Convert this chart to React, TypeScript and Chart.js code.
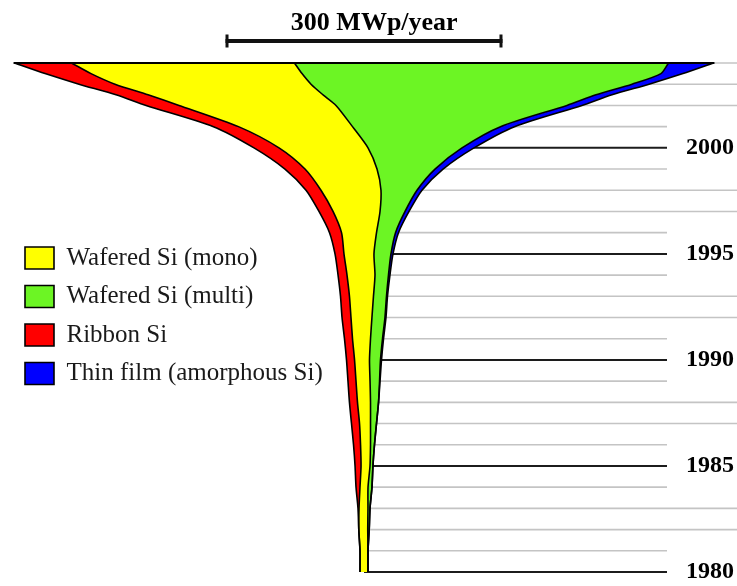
import React, { useEffect, useRef } from "react";
import { Chart, registerables } from "chart.js";

Chart.register(...registerables);

// ---- data ----
const YEARS = [
  1980, 1981, 1982, 1983, 1984, 1985, 1986, 1987, 1988, 1989, 1990, 1991, 1992,
  1993, 1994, 1995, 1996, 1997, 1998, 1999, 2000, 2001, 2002, 2002.5, 2003, 2003.5, 2004,
];
// MWp/year per technology
const RIBBON = [0, 0, 0, 1.1, 4.3, 6.5, 7.6, 8.7, 8.7, 8.7, 8.7, 8.7, 9.7, 9.7, 9.7, 9.7, 13.0, 15.2, 16.2, 21.7, 27.1, 27.1, 35.7, 34.7, 39.0, 49.8, 61.7];
const MONO = [8.7, 8.7, 9.7, 9.7, 8.7, 9.7, 10.8, 11.9, 14.1, 15.2, 16.2, 19.5, 22.7, 26.0, 30.3, 32.5, 37.9, 50.9, 65.0, 78.0, 96.4, 123.5, 170.0, 189.5, 212.3, 228.5, 241.5];
const MULTI = [0, 0, 1.6, 2.2, 4.3, 3.2, 4.3, 6.5, 8.7, 10.3, 11.9, 13.0, 14.1, 14.1, 14.6, 18.4, 20.6, 27.1, 39.0, 62.8, 101.8, 160.3, 250.2, 295.7, 347.7, 388.8, 405.1];
const THIN = [0, 0, 0, 0, 0, 0, 0, 0, 0, 0.5, 1.1, 1.1, 1.1, 1.1, 1.6, 2.2, 3.2, 4.3, 5.4, 8.7, 13.0, 15.2, 16.2, 17.3, 18.4, 23.8, 48.7];

const SERIES_LABELS = ["Ribbon Si", "Wafered Si (mono)", "Wafered Si (multi)", "Thin film (amorphous Si)"];
const SERIES_COLORS = ["#ff0000", "#ffff00", "#6cf524", "#0000ff"];
const LEGEND_ORDER = ["Wafered Si (mono)", "Wafered Si (multi)", "Ribbon Si", "Thin film (amorphous Si)"];
const LABEL_YEARS = [1980, 1985, 1990, 1995, 2000];
const GRID_YEARS = [
  1980, 1981, 1982, 1983, 1984, 1985, 1986, 1987, 1988, 1989, 1990, 1991, 1992,
  1993, 1994, 1995, 1996, 1997, 1998, 1999, 2000, 2001, 2002, 2003, 2004,
];
const SCALE_BAR_MW = 300;
const SCALE_TITLE = "300 MWp/year";

const SERIF = "'Liberation Serif', 'Times New Roman', serif";

export default function App() {
  const ref = useRef<HTMLCanvasElement | null>(null);

  useEffect(() => {
    if (!ref.current) return;
    const totals = YEARS.map((_, i) => RIBBON[i] + MONO[i] + MULTI[i] + THIN[i]);
    const b0 = totals.map((t) => -t / 2);
    const b1 = b0.map((v, i) => v + RIBBON[i]);
    const b2 = b1.map((v, i) => v + MONO[i]);
    const b3 = b2.map((v, i) => v + MULTI[i]);
    const b4 = b3.map((v, i) => v + THIN[i]);
    const pts = (arr: number[]) => arr.map((x, i) => ({ x, y: YEARS[i] }));
    const bounds = [b1, b2, b3, b4];

    const common = {
      borderColor: "#000",
      borderWidth: 1.6,
      pointRadius: 0,
      pointHoverRadius: 0,
      pointHitRadius: 0,
      tension: 0.25,
      clip: false as any,
    };

    const datasets: any[] = [
      { ...common, label: "edge", data: pts(b0), fill: false, backgroundColor: "#000" },
      ...bounds.map((b, k) => ({
        ...common,
        label: SERIES_LABELS[k],
        data: pts(b),
        fill: "-1",
        backgroundColor: SERIES_COLORS[k],
      })),
    ];

    const decor = {
      id: "decor",
      beforeDraw(chart: any) {
        const { ctx } = chart;
        const xs = chart.scales.x;
        const ys = chart.scales.y;
        const x0 = xs.getPixelForValue(0);
        ctx.save();
        GRID_YEARS.forEach((yr) => {
          const py = ys.getPixelForValue(yr);
          const major = LABEL_YEARS.includes(yr);
          const d = yr % 10;
          const long = yr === 2004 || (!major && (d === 2 || d === 3 || d === 7 || d === 8));
          const xEnd = long ? chart.width : chart.width - 70;
          ctx.beginPath();
          ctx.strokeStyle = major ? "#1c1c1c" : "#c4c4c4";
          ctx.lineWidth = major ? 2 : 1.6;
          ctx.moveTo(x0, py);
          ctx.lineTo(xEnd, py);
          ctx.stroke();
        });
        ctx.restore();
      },
      afterDatasetsDraw(chart: any) {
        const { ctx } = chart;
        const left = chart.getDatasetMeta(0).data;
        const right = chart.getDatasetMeta(4).data;
        const pl = left[left.length - 1];
        const pr = right[right.length - 1];
        ctx.save();
        ctx.beginPath();
        ctx.strokeStyle = "#000";
        ctx.lineWidth = 2.2;
        ctx.moveTo(pl.x - 1, pl.y);
        ctx.lineTo(pr.x + 1, pr.y);
        ctx.stroke();
        ctx.restore();
      },
      afterDraw(chart: any) {
        const { ctx } = chart;
        const xs = chart.scales.x;
        const xa = xs.getPixelForValue(-SCALE_BAR_MW / 2);
        const xb = xs.getPixelForValue(SCALE_BAR_MW / 2);
        const y = 41;
        ctx.save();
        ctx.strokeStyle = "#111";
        ctx.lineWidth = 4;
        ctx.beginPath();
        ctx.moveTo(xa, y);
        ctx.lineTo(xb, y);
        ctx.stroke();
        ctx.lineWidth = 3;
        ctx.beginPath();
        ctx.moveTo(xa + 1.5, y - 6.5);
        ctx.lineTo(xa + 1.5, y + 6.5);
        ctx.moveTo(xb - 1.5, y - 6.5);
        ctx.lineTo(xb - 1.5, y + 6.5);
        ctx.stroke();
        ctx.restore();
      },
    };

    const zeroPad = (s: any) => {
      s.paddingTop = 0;
      s.paddingBottom = 0;
      s.paddingLeft = 0;
      s.paddingRight = 0;
    };

    const chart = new Chart(ref.current, {
      type: "line",
      data: { datasets },
      options: {
        indexAxis: "y",
        responsive: false,
        devicePixelRatio: 1,
        animation: false,
        events: [],
        layout: { padding: { left: 11.5, right: 0, top: 0, bottom: 0 }, autoPadding: false } as any,
        elements: { line: { capBezierPoints: false } as any },
        scales: {
          x: {
            type: "linear",
            position: "top",
            min: -381.8,
            max: 404.0,
            grid: { display: false },
            border: { display: false },
            ticks: { display: false },
            title: {
              display: true,
              text: SCALE_TITLE,
              color: "#000",
              font: { family: SERIF, size: 26, weight: "bold" },
              padding: { top: 8, bottom: 0 },
            },
            afterFit: (s: any) => {
              s.height = 0;
              zeroPad(s);
            },
          },
          y: {
            type: "linear",
            position: "right",
            min: 1979.34,
            max: 2006.971,
            grid: { display: false },
            border: { display: false },
            afterBuildTicks: (s: any) => {
              s.ticks = LABEL_YEARS.map((v) => ({ value: v }));
            },
            ticks: {
              mirror: true,
              padding: -3,
              color: "#000",
              font: { family: SERIF, size: 24, weight: "bold" },
              callback: (v: any) => String(v),
            },
            afterFit: (s: any) => {
              s.width = 0;
              zeroPad(s);
            },
          },
        },
        plugins: {
          filler: { drawTime: "beforeDatasetsDraw", propagate: false },
          tooltip: { enabled: false },
          legend: {
            display: true,
            position: "chartArea",
            align: "center",
            title: { display: true, text: "", padding: { top: 33.5, bottom: 0 }, font: { size: 10 } },
            labels: {
              boxWidth: 29,
              boxHeight: 22,
              padding: 13.5,
              color: "#1a1a1a",
              font: { family: SERIF, size: 25 },
              filter: (item: any) => item.datasetIndex !== 0,
              sort: (a: any, b: any) => LEGEND_ORDER.indexOf(a.text) - LEGEND_ORDER.indexOf(b.text),
            },
          } as any,
        },
      },
      plugins: [decor],
    } as any);

    return () => chart.destroy();
  }, []);

  return (
    <div style={{ position: "absolute", left: 0, top: 0, width: 737, height: 586, background: "#fff" }}>
      <canvas ref={ref} width={737} height={586} style={{ display: "block" }} />
    </div>
  );
}
